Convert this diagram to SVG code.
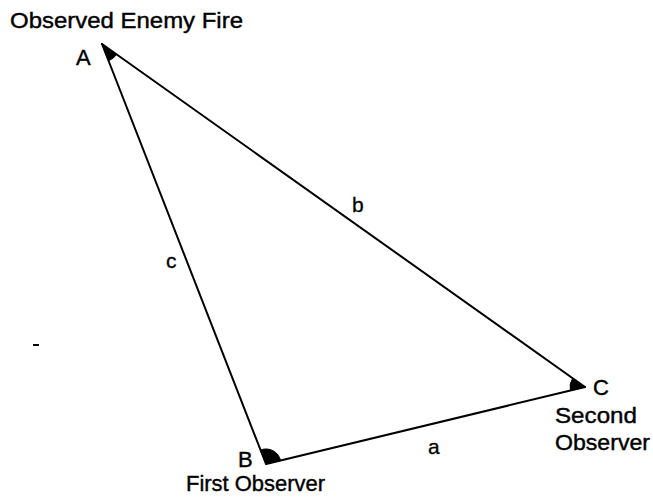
<svg xmlns="http://www.w3.org/2000/svg" width="653" height="497" viewBox="0 0 653 497">
<style>
.t{font-family:"Liberation Sans",Arial,sans-serif;font-size:22px;fill:#000;stroke:#000;stroke-width:0.4}
.l{font-family:"Liberation Sans",Arial,sans-serif;font-size:21px;fill:#000;stroke:#000;stroke-width:0.3}
.e{stroke:#000;stroke-width:2;fill:none;stroke-linecap:round}
.w{fill:#000;stroke:#000;stroke-width:1}
</style>
<rect width="653" height="497" fill="#fff"/>
<g id="connectors">
<line class="e" x1="102" y1="44" x2="585" y2="387"/>
<line class="e" x1="102" y1="44" x2="266" y2="464"/>
<line class="e" x1="266" y1="464" x2="585" y2="387"/>
<text class="l" x="352" y="212">b</text>
<text class="l" x="166" y="268">c</text>
<text class="l" x="428" y="454">a</text>
</g>
<g id="nodeA">
<path class="w" d="M102,44 L116.7,54.4 A18,18 0 0 1 108.5,60.8 Z"/>
<text class="t" x="10" y="28" textLength="233" lengthAdjust="spacingAndGlyphs">Observed Enemy Fire</text>
<text class="t" x="76" y="65">A</text>
</g>
<g id="nodeB">
<path class="w" d="M266,464 L260.5,450 A15,15 0 0 1 280.6,460.6 Z"/>
<text class="t" x="238" y="467">B</text>
<text class="t" x="186" y="491" textLength="139" lengthAdjust="spacingAndGlyphs">First Observer</text>
</g>
<g id="nodeC">
<path class="w" d="M585,387 L570.4,390.5 A15,15 0 0 1 572.8,378.3 Z"/>
<text class="t" x="593" y="395">C</text>
<text class="t" x="555" y="423" textLength="82" lengthAdjust="spacingAndGlyphs">Second</text>
<text class="t" x="555" y="450" textLength="95" lengthAdjust="spacingAndGlyphs">Observer</text>
</g>
<rect x="33" y="344" width="6" height="2" fill="#000"/>
</svg>
